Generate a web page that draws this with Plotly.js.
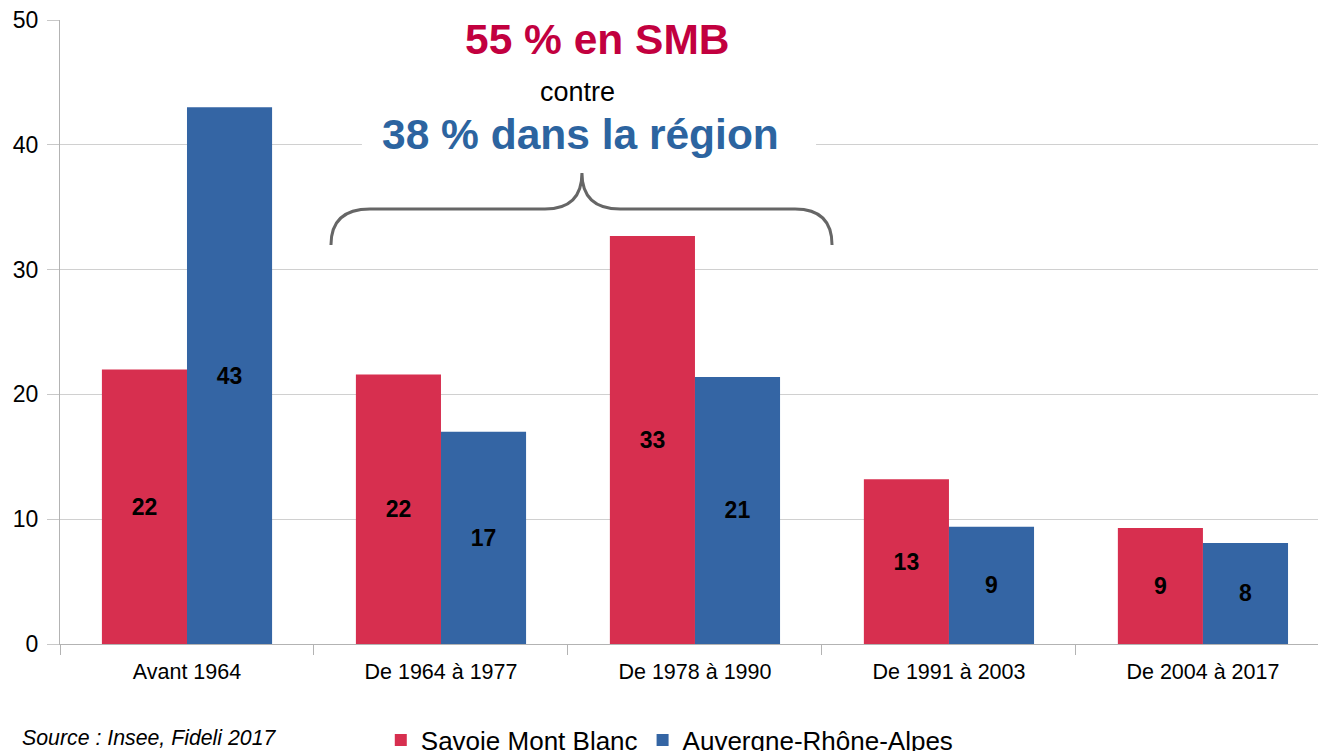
<!DOCTYPE html>
<html>
<head>
<meta charset="utf-8">
<script src="https://cdn.plot.ly/plotly-3.0.1.min.js"></script>
<style>html,body{margin:0;padding:0;background:#fff;}#chart{width:1320px;height:751px;}</style>
</head>
<body>
<div id="chart"></div>
<script>
const categories = ["Avant 1964", "De 1964 à 1977", "De 1978 à 1990", "De 1991 à 2003", "De 2004 à 2017"];
const smbValues = [22.0, 21.6, 32.7, 13.2, 9.3];
const auraValues = [43.0, 17.0, 21.4, 9.4, 8.1];
const seriesNames = ["Savoie Mont Blanc", "Auvergne-Rhône-Alpes"];
const yTicks = [0, 10, 20, 30, 40, 50];

const FONT = "Liberation Sans, Arial, sans-serif";
const RED = "#D72F4F";
const BLUE = "#3465A4";

const barCommon = {
  type: "bar",
  x: categories,
  texttemplate: "%{y:.0f}",
  textposition: "inside",
  insidetextanchor: "middle",
  textangle: 0,
  textfont: {family: FONT, size: 23, color: "#000", weight: "bold"},
  hoverinfo: "skip"
};

const data = [
  Object.assign({}, barCommon, {y: smbValues, name: seriesNames[0], marker: {color: RED}}),
  Object.assign({}, barCommon, {y: auraValues, name: seriesNames[1], marker: {color: BLUE}})
];

const layout = {
  width: 1320, height: 751,
  margin: {l: 60, r: 2, t: 20, b: 107},
  paper_bgcolor: "#fff", plot_bgcolor: "#fff",
  font: {family: FONT, color: "#000"},
  barmode: "group", bargap: 0.33, bargroupgap: 0,
  showlegend: true,
  legend: {
    orientation: "h", xref: "paper", yref: "container", x: 0.255, y: 0.0146,
    xanchor: "left", yanchor: "middle",
    font: {family: FONT, size: 26, color: "#000"}, itemwidth: 30, traceorder: "normal"
  },
  xaxis: {
    type: "category", range: [-0.5, 4.453],
    showgrid: false, showline: true, linecolor: "#b3b3b3", linewidth: 1,
    ticks: "outside", tickson: "boundaries", ticklen: 10, tickcolor: "#b3b3b3",
    tickfont: {family: FONT, size: 21.5, color: "#000"}, ticklabelstandoff: 8,
    zeroline: false, fixedrange: true, automargin: false
  },
  yaxis: {
    range: [0, 50], tickvals: yTicks, ticktext: yTicks.map(String),
    showgrid: true, gridcolor: "#d0d0d0", gridwidth: 1,
    showline: true, linecolor: "#b3b3b3", linewidth: 1,
    ticks: "outside", ticklen: 12, tickcolor: "#c8c8c8",
    tickfont: {family: FONT, size: 23, color: "#000"}, ticklabelstandoff: 4,
    zeroline: false, fixedrange: true, automargin: false
  },
  shapes: [
    {type: "rect", xref: "paper", yref: "paper", x0: 0.240, x1: 0.601, y0: 0.792, y1: 1.05,
     fillcolor: "#fff", line: {width: 0}, layer: "above"},
    {type: "path", xref: "paper", yref: "paper", layer: "above",
     path: "M0.2154,0.6394 Q0.2154,0.6971 0.2464,0.6971 L0.3855,0.6971 Q0.4149,0.6971 0.4149,0.7548 Q0.4149,0.6971 0.4452,0.6971 L0.5843,0.6971 Q0.6137,0.6971 0.6137,0.6394",
     line: {color: "#666666", width: 3}}
  ],
  annotations: [
    {xref: "paper", yref: "paper", x: 0.4269, y: 0.968, xanchor: "center", yanchor: "middle",
     text: "<b>55 % en SMB</b>", showarrow: false, font: {family: FONT, size: 42.5, color: "#C2003F"}},
    {xref: "paper", yref: "paper", x: 0.411, y: 0.885, xanchor: "center", yanchor: "middle",
     text: "contre", showarrow: false, font: {family: FONT, size: 27, color: "#000"}},
    {xref: "paper", yref: "paper", x: 0.4134, y: 0.816, xanchor: "center", yanchor: "middle",
     text: "<b>38 % dans la région</b>", showarrow: false, font: {family: FONT, size: 42.5, color: "#2C64A0"}},
    {xref: "paper", yref: "paper", x: -0.0318, y: -0.1506, xanchor: "left", yanchor: "middle",
     text: "<i>Source : Insee, Fideli 2017</i>", showarrow: false, font: {family: FONT, size: 21.3, color: "#000"}}
  ]
};

Plotly.newPlot("chart", data, layout, {displayModeBar: false, staticPlot: true});
</script>
</body>
</html>
